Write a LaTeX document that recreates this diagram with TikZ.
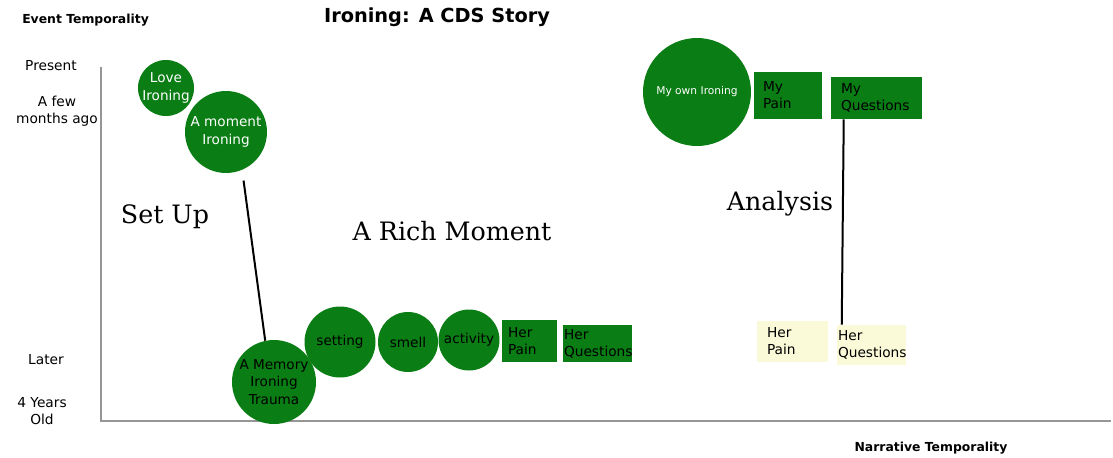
\documentclass[tikz,border=0pt]{standalone}
\usepackage{fontspec}
\setmainfont{DejaVu Sans}
\newfontfamily\serifgrande{DejaVu Serif}
\usetikzlibrary{shapes.geometric, arrows}
\definecolor{verde}{RGB}{10,125,20}
\definecolor{amarillo}{RGB}{250,250,216}
\definecolor{gris}{RGB}{150,150,150}
\tikzstyle{bola} = [circle, fill=verde, inner sep=0pt, align=center, font=\fontsize{10.2}{13}\selectfont]
\tikzstyle{caja} = [rectangle, fill=verde, inner ysep=0pt, align=left, font=\fontsize{10.3}{12.8}\selectfont]
\tikzstyle{cajaclara} = [caja, fill=amarillo]
\tikzstyle{solotexto} = [align=center, inner sep=0pt, font=\fontsize{10.3}{12.6}\selectfont]
\tikzstyle{eje} = [gris, line width=1.1pt]
\tikzstyle{etiquetaeje} = [inner sep=0pt, font=\bfseries\fontsize{9.3}{11}\selectfont]
\tikzstyle{etapa} = [inner sep=0pt, font=\serifgrande\fontsize{19}{23}\selectfont]
\tikzstyle{linea} = [line width=1.5pt]

\begin{document}
\begin{tikzpicture}[x=0.75pt, y=-0.75pt]
        \fill[white] (0,0) rectangle (1113,457);
        \useasboundingbox (0,0) rectangle (1113,457);

        % ejes y textos
        \node (titulo) [etiquetaeje, font=\bfseries\fontsize{14.5}{17}\selectfont] at (437,17) {Ironing: A CDS Story};
        \node (evento) [etiquetaeje, anchor=west] at (22,20) {Event Temporality};
        \node (narrativa) [etiquetaeje] at (931,448) {Narrative Temporality};
        \coordinate (origen) at (101,421);
        \coordinate (arriba) at (101,67);
        \coordinate (derecha) at (1111,421);
        \draw [eje] (arriba) -- (origen) -- (derecha);

        \node (presente) [solotexto] at (51,66) {Present};
        \node (meses) [solotexto] at (57,111) {A few\\months ago};
        \node (despues) [solotexto] at (46,360) {Later};
        \node (anios) [solotexto] at (42,411) {4 Years\\Old};

        \node (setup) [etapa] at (165,217) {Set Up};
        \node (rico) [etapa] at (452,231) {A Rich Moment};
        \node (analisis) [etapa] at (780,204) {Analysis};

        % momentos
        \node (love) [bola, minimum size=40.5pt, text=white] at (166,88) {Love\\Ironing};
        \node (moment) [bola, minimum size=61.5pt, text=white] at (226,132) {A moment\\Ironing};
        \node (memory) [bola, minimum size=63pt] at (274,382) {A Memory\\Ironing\\Trauma};
        \node (setting) [bola, minimum size=53.25pt] at (340,342) {setting};
        \node (smell) [bola, minimum size=45pt] at (408,342) {smell};
        \node (activity) [bola, minimum size=45.75pt] at (469,340) {activity};
        \node (herpain) [caja, minimum width=41.25pt, minimum height=31.5pt, inner xsep=4.5pt, text width=32.25pt] at (529.5,341) {Her\\Pain};
        \node (herquest) [caja, minimum width=51.75pt, minimum height=27.75pt, inner xsep=0.75pt, text width=50.25pt] at (597.5,343.5) {Her\\Questions};

        % analisis
        \node (own) [bola, minimum size=81pt, text=white, font=\fontsize{8}{10}\selectfont] at (697,92) {My own Ironing};
        \node (mypain) [caja, minimum width=51pt, minimum height=35.25pt, inner xsep=6.75pt, text width=37.5pt] at (788,95.5) {My\\Pain};
        \node (myquest) [caja, minimum width=68.25pt, minimum height=31.5pt, inner xsep=7.5pt, text width=53.25pt] at (876.5,98) {My\\Questions};
        \node (herpain2) [cajaclara, minimum width=53.25pt, minimum height=30.75pt, inner xsep=7.5pt, text width=38.25pt] at (792.5,341.5) {Her\\Pain};
        \node (herquest2) [cajaclara, minimum width=51.75pt, minimum height=30pt, inner xsep=0.75pt, text width=50.25pt] at (871.5,345) {Her\\Questions};

        \draw [linea, shorten <=8pt] (moment.-67) -- (memory.102);
        \draw [linea] ([xshift=9.75pt]myquest.south west) -- ([xshift=3.75pt]herquest2.north west);
    \end{tikzpicture}
\end{document}
